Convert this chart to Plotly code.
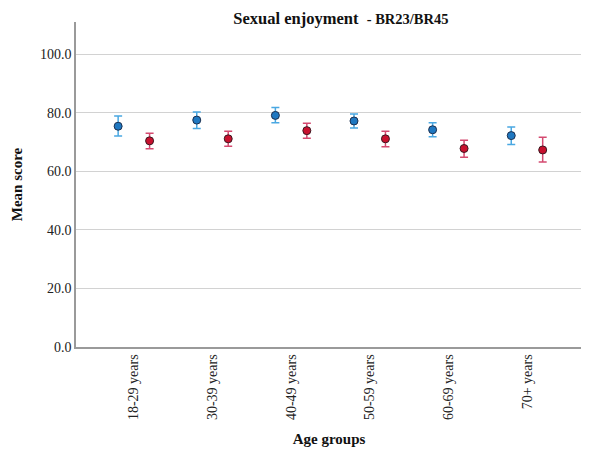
import plotly.graph_objects as go

age_groups = ["18-29 years", "30-39 years", "40-49 years", "50-59 years", "60-69 years", "70+ years"]

br23_mean = [75.4, 77.5, 79.1, 77.2, 74.2, 72.2]
br23_upper = [78.9, 80.3, 81.8, 79.6, 76.6, 75.1]
br23_lower = [72.1, 74.6, 76.6, 74.8, 71.8, 69.2]

br45_mean = [70.4, 71.1, 73.9, 71.1, 67.8, 67.3]
br45_upper = [73.0, 73.7, 76.4, 73.7, 70.6, 71.6]
br45_lower = [67.7, 68.6, 71.3, 68.4, 64.8, 63.2]

y_ticks = [0, 20, 40, 60, 80, 100]

FONT = "Liberation Serif, Times New Roman, serif"

def series(means, upper, lower, offset, fill, line, err_color, name):
    xs = [i + offset for i in range(len(means))]
    return go.Scatter(
        x=xs, y=means, mode="markers", name=name,
        marker=dict(size=8, color=fill, line=dict(color=line, width=1)),
        error_y=dict(type="data", symmetric=False,
                     array=[u - m for u, m in zip(upper, means)],
                     arrayminus=[m - l for m, l in zip(means, lower)],
                     color=err_color, thickness=1.5, width=4),
        showlegend=False,
    )

fig = go.Figure()
fig.add_trace(series(br23_mean, br23_upper, br23_lower, -0.2, "#1f78c1", "#1c2f4f", "#4aa8e2", "BR23"))
fig.add_trace(series(br45_mean, br45_upper, br45_lower, 0.2, "#c8102e", "#3a1a22", "#d44a70", "BR45"))

fig.update_layout(
    width=581, height=444,
    margin=dict(l=67, r=7, t=14, b=100),
    paper_bgcolor="white", plot_bgcolor="white",
    font=dict(family=FONT, size=14, color="#222222"),
    title=dict(
        text="<b><span style='font-size:16.5px'>Sexual enjoyment </span> <span style='font-size:14.5px'>- BR23/BR45</span></b>",
        x=0.573, xanchor="center", y=0.977, yanchor="middle",
        font=dict(family=FONT, size=16.5, color="#111111"),
    ),
    xaxis=dict(
        range=[-0.736, 5.70],
        tickmode="array", tickvals=list(range(len(age_groups))), ticktext=age_groups,
        tickangle=-90, showgrid=False, zeroline=False,
        showline=True, linecolor="#9a9a9a", linewidth=1.5,
        ticks="", tickfont=dict(family=FONT, size=14, color="#222222"),
        title=dict(text="<b>Age groups</b>", font=dict(family=FONT, size=15, color="#111111"), standoff=14),
    ),
    yaxis=dict(
        range=[0, 111],
        tickmode="array", tickvals=y_ticks, ticktext=[f"{v:.1f}" for v in y_ticks],
        showgrid=True, gridcolor="#d2d2d2", gridwidth=1, zeroline=False,
        showline=True, linecolor="#9a9a9a", linewidth=1.5,
        ticks="", tickfont=dict(family=FONT, size=14, color="#222222"),
        title=dict(text="<b>Mean score</b>", font=dict(family=FONT, size=15, color="#111111"), standoff=14),
    ),
)

fig.write_html("out.html")
